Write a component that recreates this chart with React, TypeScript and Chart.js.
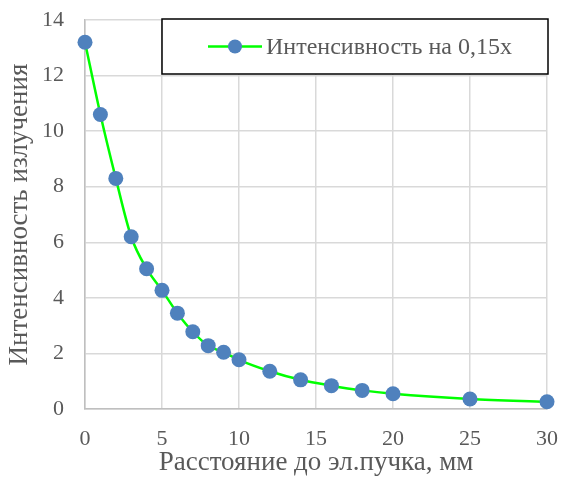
import React, { useEffect, useRef } from "react";
import { Chart, registerables } from "chart.js";

Chart.register(...registerables);

const distances = [0, 1, 2, 3, 4, 5, 6, 7, 8, 9, 10, 12, 14, 16, 18, 20, 25, 30];
const intensity = [13.2, 10.6, 8.3, 6.2, 5.05, 4.27, 3.45, 2.78, 2.28, 2.04, 1.77, 1.36, 1.05, 0.84, 0.67, 0.55, 0.36, 0.26];
const seriesLabel = "Интенсивность на 0,15x";
const xTitle = "Расстояние до эл.пучка, мм";
const yTitle = "Интенсивность излучения";

const FONT = "'Liberation Serif', 'Times New Roman', serif";
const LINE = "#00ff00";
const MARK = "#4f81bd";

const legendBox = {
  id: "legendBox",
  afterDatasetsDraw(chart: any) {
    const { ctx, chartArea } = chart;
    const left = chartArea.left + 77;
    const top = chartArea.top - 1;
    const right = chartArea.right + 1;
    const bottom = chartArea.top + 54;
    ctx.save();
    ctx.fillStyle = "#ffffff";
    ctx.fillRect(left, top, right - left, bottom - top);
    ctx.strokeStyle = "#000000";
    ctx.lineWidth = 1.5;
    ctx.strokeRect(left, top, right - left, bottom - top);
    const cy = (top + bottom) / 2;
    ctx.strokeStyle = LINE;
    ctx.lineWidth = 2.5;
    ctx.beginPath();
    ctx.moveTo(left + 46, cy);
    ctx.lineTo(left + 100, cy);
    ctx.stroke();
    ctx.fillStyle = MARK;
    ctx.beginPath();
    ctx.arc(left + 73, cy, 7, 0, Math.PI * 2);
    ctx.fill();
    ctx.fillStyle = "#595959";
    ctx.font = `24px ${FONT}`;
    ctx.textAlign = "left";
    ctx.textBaseline = "middle";
    ctx.fillText(chart.data.datasets[0].label, left + 104, cy + 1);
    ctx.restore();
  },
};

export default function App() {
  const ref = useRef<HTMLCanvasElement>(null);
  useEffect(() => {
    const chart = new Chart(ref.current!, {
      type: "line",
      data: {
        datasets: [
          {
            label: seriesLabel,
            data: distances.map((x, i) => ({ x, y: intensity[i] })),
            borderColor: LINE,
            borderWidth: 2.5,
            backgroundColor: MARK,
            pointBackgroundColor: MARK,
            pointBorderColor: MARK,
            pointBorderWidth: 0,
            pointRadius: 7.5,
            cubicInterpolationMode: "monotone",
            clip: false,
          },
        ],
      },
      options: {
        animation: false,
        responsive: false,
        maintainAspectRatio: false,
        layout: { autoPadding: false, padding: { top: 20, right: 16, left: 0, bottom: 0 } },
        plugins: { legend: { display: false }, tooltip: { enabled: false } },
        scales: {
          x: {
            type: "linear",
            min: 0,
            max: 30,
            ticks: { stepSize: 5, color: "#595959", font: { family: FONT, size: 22 }, padding: 17 },
            grid: { color: "#d9d9d9", lineWidth: 1.5, drawTicks: false },
            border: { color: "#bfbfbf", width: 1.5 },
            title: { display: true, text: xTitle, color: "#595959", font: { family: FONT, size: 27 }, padding: { top: 0, bottom: 0 } },
            afterFit(scale: any) {
              scale.height = 70;
              scale.paddingLeft = 0;
              scale.paddingRight = 0;
            },
          },
          y: {
            min: 0,
            max: 14,
            ticks: { stepSize: 2, color: "#595959", font: { family: FONT, size: 22 }, padding: 21 },
            grid: { color: "#d9d9d9", lineWidth: 1.5, drawTicks: false },
            border: { color: "#bfbfbf", width: 1.5 },
            title: { display: true, text: yTitle, color: "#595959", font: { family: FONT, size: 27 }, padding: { top: 4, bottom: 0 } },
            afterFit(scale: any) {
              scale.width = 85;
              scale.paddingTop = 0;
              scale.paddingBottom = 0;
            },
          },
        },
      },
      plugins: [legendBox],
    });
    return () => chart.destroy();
  }, []);
  return (
    <div style={{ position: "absolute", left: 0, top: 0, width: 563, height: 479, background: "#fff" }}>
      <canvas ref={ref} width={563} height={479} style={{ display: "block" }} />
    </div>
  );
}
